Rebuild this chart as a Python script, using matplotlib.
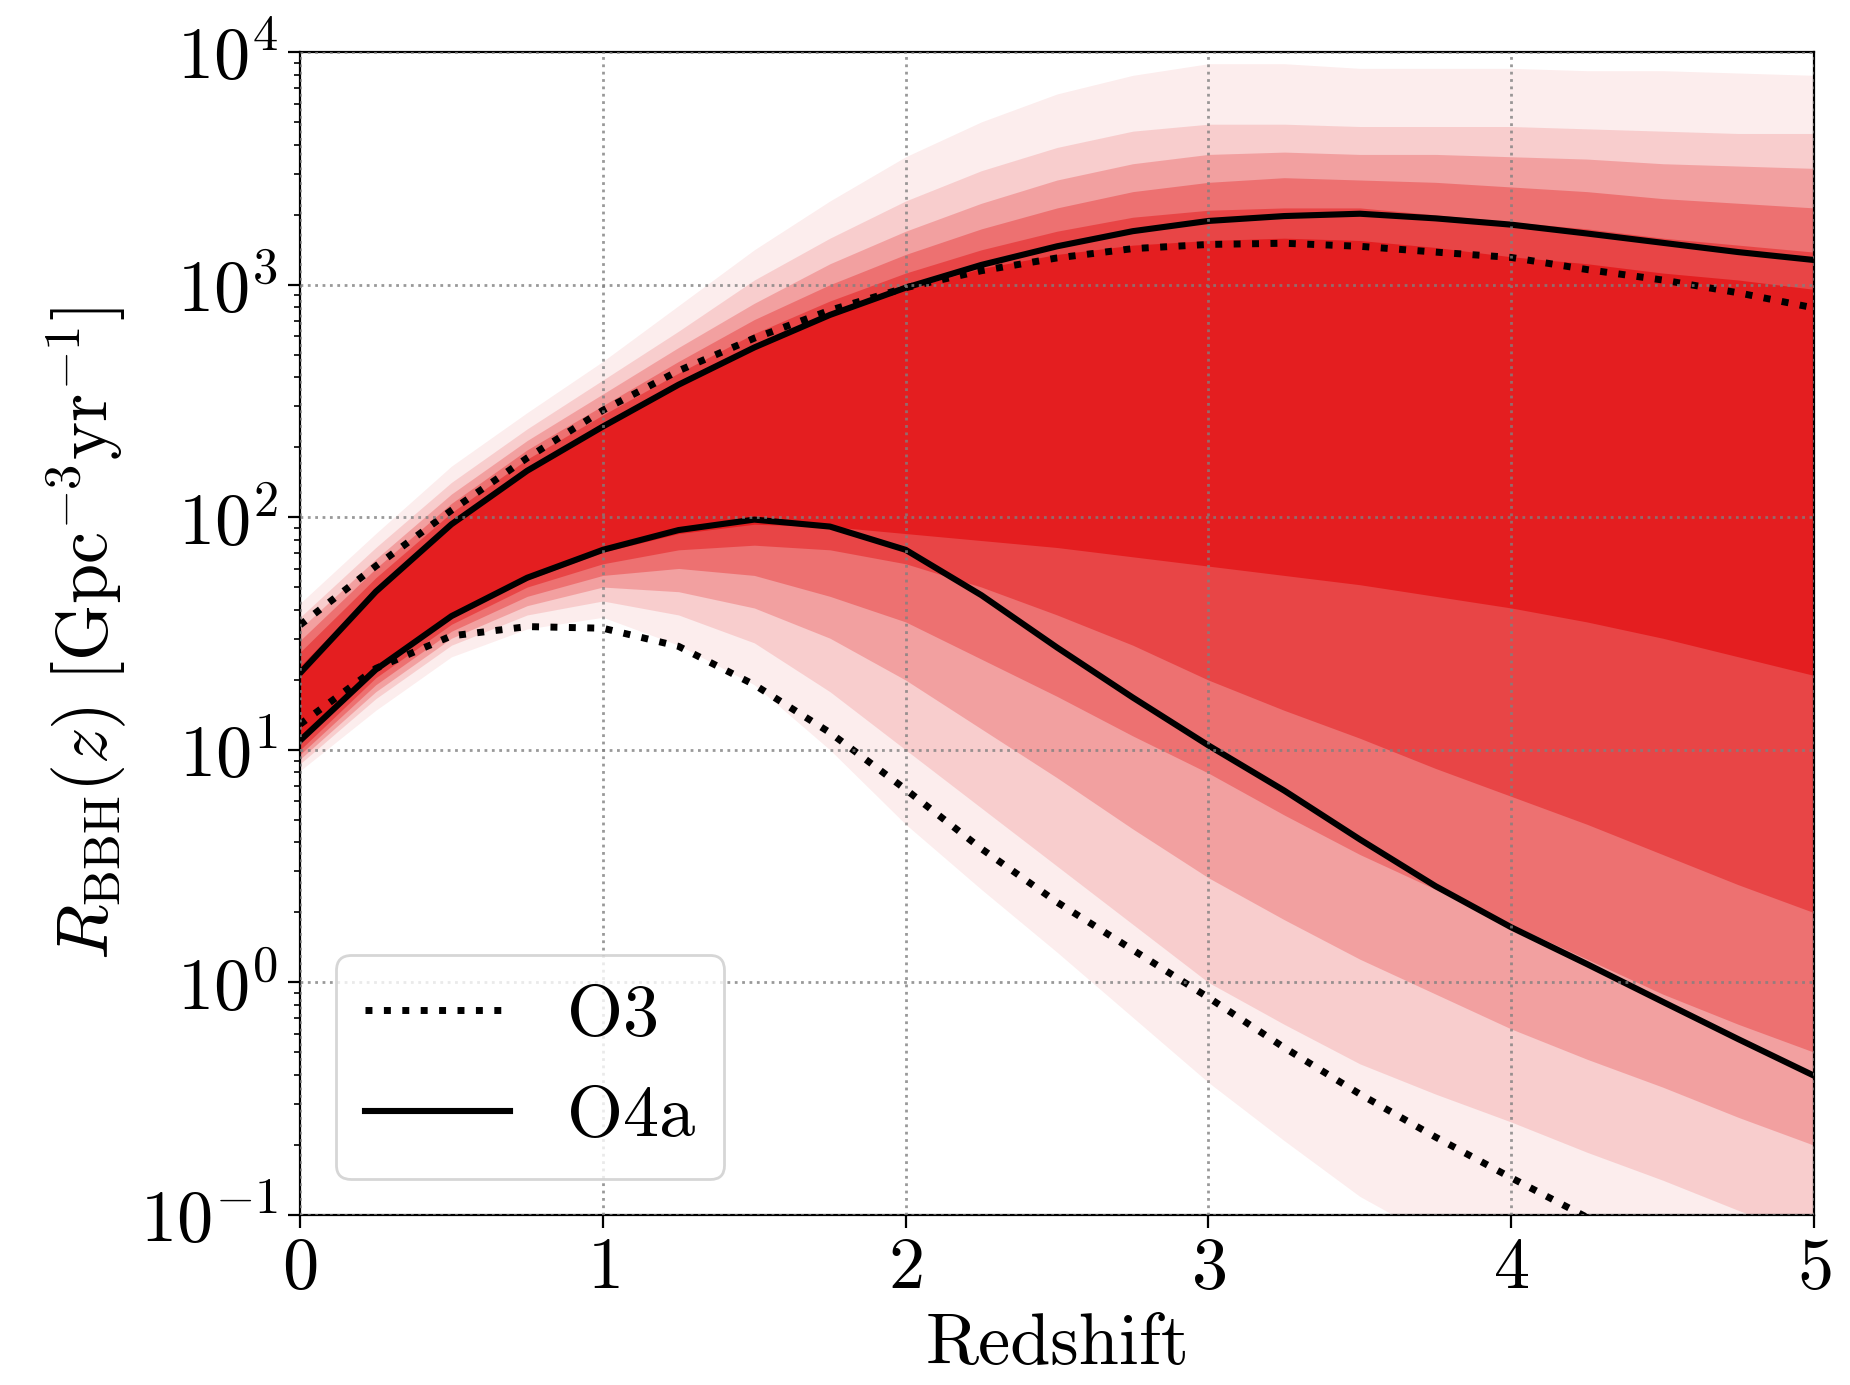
import numpy as np
import matplotlib
matplotlib.use("Agg")
import matplotlib.pyplot as plt

plt.rcParams['font.family'] = 'serif'
plt.rcParams['font.serif'] = ['cmr10']
plt.rcParams['mathtext.fontset'] = 'cm'
plt.rcParams['axes.formatter.use_mathtext'] = True
plt.rcParams['axes.unicode_minus'] = False

# redshift grid the values below were read at
z = [0.0, 0.25, 0.5, 0.75, 1.0, 1.25, 1.5, 1.75, 2.0, 2.25, 2.5,
     2.75, 3.0, 3.25, 3.5, 3.75, 4.0, 4.25, 4.5, 4.75, 5.0]

# log10 R(z), black summary curves (90% bounds)
o4a_hi = [1.33, 1.68, 1.97, 2.20, 2.39, 2.57, 2.73, 2.87, 2.987, 3.085, 3.165,
          3.23, 3.274, 3.295, 3.305, 3.285, 3.258, 3.22, 3.18, 3.14, 3.106]
o4a_lo = [1.04, 1.345, 1.575, 1.74, 1.86, 1.945, 1.99, 1.96, 1.86, 1.665, 1.44,
          1.225, 1.019, 0.825, 0.615, 0.414, 0.237, 0.079, -0.083, -0.244, -0.401]
o3_hi = [1.537, 1.79, 2.03, 2.255, 2.46, 2.63, 2.77, 2.89, 2.987, 3.06, 3.115,
         3.155, 3.173, 3.178, 3.165, 3.14, 3.117, 3.065, 3.02, 2.965, 2.90]
z_o3lo = z[:18]
o3_lo = [1.11, 1.35, 1.49, 1.53, 1.523, 1.445, 1.28, 1.074, 0.83, 0.575, 0.345,
         0.14, -0.065, -0.28, -0.48, -0.665, -0.84, -1.01]

# log10 R(z), envelopes of the red posterior draws, outer (a) -> core (f)
a_hi = [1.63, 1.93, 2.22, 2.45, 2.67, 2.91, 3.15, 3.36, 3.55, 3.70, 3.82,
        3.90, 3.95, 3.95, 3.93, 3.93, 3.93, 3.92, 3.92, 3.91, 3.90]
a_lo = [0.91, 1.17, 1.40, 1.52, 1.57, 1.45, 1.28, 1.00, 0.68, 0.40, 0.13,
        -0.15, -0.43, -0.68, -0.92, -1.10, -1.22, -1.32, -1.42, -1.52, -1.60]
b_hi = [1.57, 1.87, 2.15, 2.38, 2.59, 2.80, 3.02, 3.20, 3.36, 3.49, 3.59,
        3.66, 3.69, 3.69, 3.68, 3.68, 3.68, 3.67, 3.66, 3.65, 3.65]
b_lo = [0.94, 1.22, 1.45, 1.58, 1.64, 1.58, 1.46, 1.25, 1.00, 0.75, 0.50,
        0.25, 0.00, -0.18, -0.35, -0.48, -0.60, -0.73, -0.85, -0.98, -1.10]
c_hi = [1.52, 1.82, 2.10, 2.33, 2.53, 2.73, 2.92, 3.09, 3.23, 3.35, 3.45,
        3.52, 3.56, 3.57, 3.56, 3.56, 3.55, 3.54, 3.52, 3.51, 3.50]
c_lo = [0.96, 1.25, 1.48, 1.62, 1.70, 1.68, 1.61, 1.48, 1.30, 1.09, 0.88,
        0.66, 0.45, 0.27, 0.10, -0.05, -0.20, -0.33, -0.45, -0.58, -0.70]
d_hi = [1.47, 1.78, 2.06, 2.29, 2.48, 2.67, 2.85, 3.00, 3.13, 3.24, 3.33,
        3.40, 3.44, 3.46, 3.45, 3.44, 3.42, 3.40, 3.37, 3.35, 3.33]
d_lo = [0.98, 1.28, 1.51, 1.66, 1.75, 1.78, 1.75, 1.66, 1.55, 1.39, 1.23,
        1.06, 0.90, 0.72, 0.55, 0.40, 0.25, 0.10, -0.05, -0.18, -0.30]
e_hi = [1.42, 1.74, 2.02, 2.25, 2.44, 2.62, 2.79, 2.93, 3.05, 3.15, 3.23,
        3.29, 3.32, 3.33, 3.33, 3.30, 3.27, 3.24, 3.20, 3.17, 3.14]
e_lo = [1.00, 1.31, 1.54, 1.70, 1.80, 1.86, 1.88, 1.86, 1.80, 1.70, 1.58,
        1.45, 1.30, 1.17, 1.05, 0.92, 0.80, 0.68, 0.55, 0.42, 0.30]
f_hi = [1.36, 1.69, 1.97, 2.20, 2.39, 2.57, 2.74, 2.87, 2.98, 3.07, 3.13,
        3.17, 3.19, 3.20, 3.19, 3.16, 3.12, 3.09, 3.05, 3.02, 2.98]
f_lo = [1.03, 1.34, 1.57, 1.73, 1.85, 1.93, 1.97, 1.96, 1.93, 1.90, 1.87,
        1.83, 1.79, 1.75, 1.71, 1.66, 1.61, 1.55, 1.48, 1.40, 1.32]

red = '#e41a1c'

fig = plt.figure(figsize=(9.25, 6.925), dpi=200)
ax = fig.add_axes([0.1622, 0.1227, 0.8184, 0.8397])

bands = [(a_lo, a_hi, 0.08), (b_lo, b_hi, 0.15), (c_lo, c_hi, 0.25),
         (d_lo, d_hi, 0.35), (e_lo, e_hi, 0.50), (f_lo, f_hi, 0.90)]
for lo, hi, alpha in bands:
    ax.fill_between(z, 10**np.array(lo), 10**np.array(hi), color=red,
                    alpha=alpha, lw=0)

ax.plot(z, 10**np.array(o3_hi), 'k:', lw=2.5, label='O3')
ax.plot(z_o3lo, 10**np.array(o3_lo), 'k:', lw=2.5)
ax.plot(z, 10**np.array(o4a_hi), 'k-', lw=2.2, label='O4a')
ax.plot(z, 10**np.array(o4a_lo), 'k-', lw=2.2)

ax.set_yscale('log')
ax.set_xlim(0, 5)
ax.set_ylim(1e-1, 1e4)
ax.set_axisbelow(False)
ax.grid(True, which='major', ls=':', color='gray', lw=1.0, alpha=0.8)
ax.tick_params(labelsize=26, which='major', length=4.5)
ax.tick_params(which='minor', length=2.2)

ax.set_xlabel('Redshift', fontsize=26)
ax.set_ylabel(r'$R_{\rm BBH}(z)\ [{\rm Gpc}^{-3}{\rm yr}^{-1}]$', fontsize=26)
ax.legend(loc='lower left', fontsize=26)

fig.savefig('out.png', dpi=200)
